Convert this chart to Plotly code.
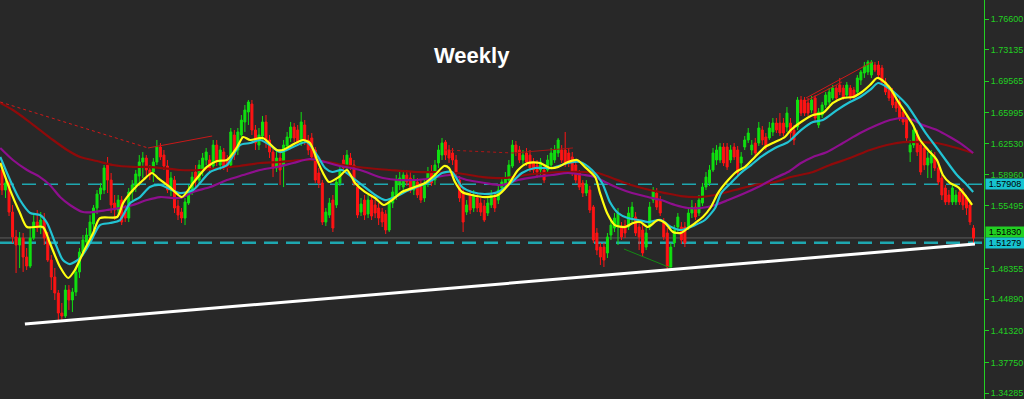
import plotly.graph_objects as go

# ---------------- candle data (weekly OHLC) ----------------
opens = [
    # segment A
    1.5952, 1.5725, 1.5805, 1.5476, 1.5194, 1.5103, 1.5182, 1.4967, 1.4865, 1.5182,
    1.5363, 1.5295, 1.5386, 1.5182, 1.4933, 1.4741, 1.4560, 1.4334, 1.4300, 1.4594,
    1.4481, 1.4571, 1.4798, 1.5024, 1.5137, 1.5205, 1.5341, 1.5522, 1.5680, 1.5725,
    1.6008, 1.5838, 1.5578, 1.5499, 1.5612, 1.5476, 1.5408, 1.5703, 1.5771, 1.5884,
    1.6042, 1.6087, 1.5952, 1.5929, 1.6042, 1.6212, 1.6121, 1.5997, 1.5725, 1.5838,
    1.5544, 1.5476, 1.5408, 1.5578, 1.5725, 1.5929, 1.5838, 1.5952, 1.6065, 1.6065,
    1.5997, 1.6234, 1.6008, 1.6155, 1.6065, 1.6008, 1.6348, 1.6178, 1.6348, 1.6495,
    1.6608,
    # segment B
    1.6698, 1.6404, 1.6234, 1.6336, 1.6495, 1.6291, 1.6155, 1.5974, 1.6087, 1.6008,
    1.6223, 1.6314, 1.6438, 1.6404, 1.6257, 1.6461, 1.6291, 1.6314, 1.6178, 1.5918,
    1.5805, 1.5363, 1.5442, 1.5612, 1.5556, 1.5805, 1.6065, 1.5974, 1.6087, 1.6008,
    1.5759, 1.5476, 1.5612, 1.5454, 1.5612, 1.5556, 1.5522, 1.5476, 1.5454, 1.5273,
    1.5578, 1.5669, 1.5782, 1.5759, 1.5895, 1.5861, 1.5725, 1.5816, 1.5771, 1.5635,
    1.5805, 1.5929, 1.5838, 1.6031, 1.6121, 1.6268, 1.6178, 1.6144, 1.6065, 1.5838,
    1.5703, 1.5476, 1.5669, 1.5522, 1.5635, 1.5578, 1.5544, 1.5465, 1.5556, 1.5635,
    1.5612,
    # segment C
    1.5748, 1.5793, 1.5838, 1.5997, 1.6234, 1.6178, 1.6065, 1.6144, 1.6121, 1.6042,
    1.6008, 1.5952, 1.5952, 1.5952, 1.6008, 1.6065, 1.6144, 1.6178, 1.6178, 1.6144,
    1.6099, 1.6008, 1.5918, 1.5805, 1.5691, 1.5725, 1.5533, 1.5239, 1.5080, 1.5080,
    1.5013, 1.5216, 1.5295, 1.5329, 1.5307, 1.5329, 1.5307, 1.5420, 1.5420, 1.5307,
    1.5273, 1.5080, 1.5307, 1.5612, 1.5691, 1.5612, 1.5352, 1.5239, 1.4854, 1.5126,
    1.5307, 1.5307, 1.5307, 1.5307, 1.5465, 1.5533, 1.5465, 1.5578, 1.5759, 1.5805,
    1.5952, 1.6065, 1.6065, 1.6212, 1.6212, 1.6065, 1.6212, 1.6178, 1.6031, 1.6212,
    1.6291,
    # segment D
    1.6178, 1.6257, 1.6257, 1.6404, 1.6325, 1.6314, 1.6382, 1.6483, 1.6483, 1.6483,
    1.6438, 1.6483, 1.6404, 1.6438, 1.6744, 1.6744, 1.6710, 1.6630, 1.6766, 1.6461,
    1.6574, 1.6687, 1.6721, 1.6766, 1.6879, 1.6913, 1.6879, 1.6800, 1.6879, 1.6857,
    1.6834, 1.6970, 1.7049, 1.7060, 1.7026, 1.7140, 1.7140, 1.7106, 1.6947, 1.6879,
    1.6834, 1.6721, 1.6721, 1.6608, 1.6540, 1.6155, 1.6234, 1.6348, 1.6234, 1.6201,
    1.6008, 1.6031, 1.6087, 1.5974, 1.5861, 1.5748, 1.5669, 1.5590, 1.5590, 1.5703,
    1.5703, 1.5635, 1.5556, 1.5295,
]

highs = [
    1.6065, 1.5861, 1.5838, 1.5556, 1.5273, 1.5250, 1.5239, 1.5069, 1.5307, 1.5442,
    1.5499, 1.5476, 1.5465, 1.5250, 1.4990, 1.4843, 1.4594, 1.4447, 1.4650, 1.4650,
    1.4617, 1.4843, 1.5069, 1.5216, 1.5295, 1.5442, 1.5556, 1.5725, 1.5805, 1.6008,
    1.6099, 1.5918, 1.5669, 1.5669, 1.5657, 1.5556, 1.5748, 1.5838, 1.5952, 1.6121,
    1.6155, 1.6121, 1.6008, 1.6087, 1.6291, 1.6257, 1.6178, 1.6065, 1.5929, 1.5884,
    1.5612, 1.5522, 1.5635, 1.5782, 1.5929, 1.6008, 1.6065, 1.6144, 1.6201, 1.6121,
    1.6291, 1.6291, 1.6223, 1.6201, 1.6121, 1.6427, 1.6404, 1.6427, 1.6574, 1.6687,
    1.6744,
    1.6744, 1.6461, 1.6427, 1.6563, 1.6574, 1.6348, 1.6201, 1.6178, 1.6178, 1.6291,
    1.6382, 1.6495, 1.6483, 1.6461, 1.6608, 1.6517, 1.6348, 1.6370, 1.6212, 1.5974,
    1.5838, 1.5522, 1.5635, 1.5669, 1.5861, 1.6008, 1.6121, 1.6178, 1.6144, 1.6065,
    1.5805, 1.5635, 1.5669, 1.5669, 1.5657, 1.5612, 1.5578, 1.5522, 1.5499, 1.5635,
    1.5759, 1.5895, 1.5929, 1.5952, 1.5952, 1.5929, 1.5895, 1.5861, 1.5838, 1.5838,
    1.5986, 1.6008, 1.6065, 1.6234, 1.6314, 1.6291, 1.6234, 1.6201, 1.6121, 1.5884,
    1.5748, 1.5612, 1.5725, 1.5725, 1.5680, 1.5635, 1.5612, 1.5635, 1.5725, 1.5703,
    1.5771,
    1.5861, 1.5929, 1.6065, 1.6291, 1.6280, 1.6223, 1.6178, 1.6201, 1.6178, 1.6087,
    1.6065, 1.6087, 1.6008, 1.6121, 1.6201, 1.6234, 1.6314, 1.6234, 1.6382, 1.6201,
    1.6155, 1.6065, 1.5952, 1.5838, 1.5838, 1.5771, 1.5556, 1.5295, 1.5126, 1.5126,
    1.5239, 1.5386, 1.5465, 1.5522, 1.5363, 1.5386, 1.5533, 1.5590, 1.5476, 1.5363,
    1.5329, 1.5295, 1.5590, 1.5759, 1.5748, 1.5657, 1.5408, 1.5295, 1.5126, 1.5329,
    1.5465, 1.5363, 1.5363, 1.5522, 1.5612, 1.5578, 1.5669, 1.5805, 1.5929, 1.6008,
    1.6201, 1.6234, 1.6257, 1.6257, 1.6257, 1.6234, 1.6257, 1.6223, 1.6155, 1.6336,
    1.6427,
    1.6291, 1.6314, 1.6495, 1.6449, 1.6370, 1.6495, 1.6540, 1.6540, 1.6596, 1.6540,
    1.6664, 1.6540, 1.6461, 1.6778, 1.6789, 1.6778, 1.6766, 1.6789, 1.6800, 1.6653,
    1.6721, 1.6834, 1.6879, 1.6913, 1.6913, 1.6993, 1.6913, 1.6947, 1.6913, 1.6891,
    1.7026, 1.7083, 1.7174, 1.7196, 1.7196, 1.7174, 1.7185, 1.7140, 1.6993, 1.6913,
    1.6879, 1.6755, 1.6766, 1.6653, 1.6574, 1.6291, 1.6461, 1.6404, 1.6291, 1.6234,
    1.6155, 1.6178, 1.6155, 1.6031, 1.5895, 1.5782, 1.5725, 1.5782, 1.5725, 1.5748,
    1.5748, 1.5669, 1.5612, 1.5329,
]

lows = [
    1.5669, 1.5635, 1.5431, 1.5126, 1.4786, 1.4843, 1.4798, 1.4820, 1.4843, 1.5160,
    1.5250, 1.5227, 1.5103, 1.4911, 1.4594, 1.4481, 1.4255, 1.4232, 1.4277, 1.4368,
    1.4345, 1.4526, 1.4730, 1.4979, 1.5046, 1.5160, 1.5182, 1.5454, 1.5612, 1.5680,
    1.5691, 1.5465, 1.5386, 1.5442, 1.5329, 1.5363, 1.5363, 1.5612, 1.5703, 1.5771,
    1.5861, 1.5861, 1.5838, 1.5816, 1.6008, 1.6065, 1.5952, 1.5691, 1.5657, 1.5465,
    1.5386, 1.5352, 1.5329, 1.5556, 1.5669, 1.5748, 1.5793, 1.5884, 1.6008, 1.5929,
    1.5952, 1.5997, 1.5952, 1.5952, 1.5929, 1.5974, 1.6065, 1.6121, 1.6291, 1.6382,
    1.6461,
    1.6348, 1.6178, 1.6178, 1.6291, 1.6201, 1.6087, 1.5872, 1.5929, 1.5782, 1.5759,
    1.6178, 1.6268, 1.6268, 1.6223, 1.6223, 1.6234, 1.6121, 1.6065, 1.5805, 1.5748,
    1.5329, 1.5318, 1.5408, 1.5250, 1.5522, 1.5771, 1.5929, 1.5952, 1.5952, 1.5771,
    1.5408, 1.5431, 1.5386, 1.5408, 1.5386, 1.5408, 1.5329, 1.5307, 1.5227, 1.5250,
    1.5522, 1.5612, 1.5725, 1.5703, 1.5771, 1.5691, 1.5669, 1.5635, 1.5578, 1.5590,
    1.5759, 1.5771, 1.5782, 1.5974, 1.6065, 1.6065, 1.6031, 1.6008, 1.5884, 1.5590,
    1.5250, 1.5442, 1.5454, 1.5476, 1.5476, 1.5431, 1.5363, 1.5431, 1.5522, 1.5476,
    1.5567,
    1.5703, 1.5748, 1.5793, 1.5974, 1.6110, 1.6031, 1.6019, 1.5997, 1.5929, 1.5895,
    1.5861, 1.5895, 1.5805, 1.5918, 1.5974, 1.6031, 1.6099, 1.6031, 1.5986, 1.5986,
    1.5884, 1.5805, 1.5725, 1.5646, 1.5657, 1.5465, 1.5126, 1.4990, 1.4877, 1.4854,
    1.4956, 1.5160, 1.5250, 1.5103, 1.5160, 1.5182, 1.5273, 1.5363, 1.5205, 1.5046,
    1.4967, 1.5046, 1.5273, 1.5578, 1.5499, 1.5431, 1.5160, 1.4820, 1.4809, 1.5080,
    1.5250, 1.5114, 1.5080, 1.5273, 1.5408, 1.5386, 1.5431, 1.5544, 1.5725, 1.5771,
    1.5929, 1.6008, 1.6031, 1.5997, 1.5952, 1.6031, 1.6065, 1.5884, 1.5974, 1.6178,
    1.6257,
    1.6121, 1.6099, 1.6223, 1.6234, 1.6178, 1.6291, 1.6336, 1.6370, 1.6336, 1.6336,
    1.6382, 1.6291, 1.6234, 1.6404, 1.6563, 1.6563, 1.6563, 1.6596, 1.6506, 1.6427,
    1.6540, 1.6653, 1.6687, 1.6744, 1.6744, 1.6800, 1.6744, 1.6766, 1.6744, 1.6744,
    1.6800, 1.6913, 1.6993, 1.7026, 1.6993, 1.7060, 1.6993, 1.6913, 1.6800, 1.6732,
    1.6653, 1.6608, 1.6506, 1.6461, 1.6280, 1.6042, 1.6201, 1.6110, 1.5895, 1.5952,
    1.5861, 1.5861, 1.5940, 1.5782, 1.5612, 1.5556, 1.5556, 1.5556, 1.5556, 1.5556,
    1.5499, 1.5442, 1.5329, 1.5103,
]

closes = [
    1.5725, 1.5805, 1.5476, 1.5194, 1.5103, 1.5182, 1.4967, 1.4865, 1.5182, 1.5363,
    1.5295, 1.5386, 1.5182, 1.4933, 1.4741, 1.4560, 1.4334, 1.4300, 1.4594, 1.4481,
    1.4571, 1.4798, 1.5024, 1.5160, 1.5216, 1.5363, 1.5522, 1.5680, 1.5748, 1.5974,
    1.5838, 1.5556, 1.5499, 1.5612, 1.5363, 1.5408, 1.5703, 1.5782, 1.5907, 1.6042,
    1.6087, 1.5952, 1.5895, 1.6042, 1.6212, 1.6099, 1.5997, 1.5725, 1.5861, 1.5522,
    1.5442, 1.5408, 1.5590, 1.5725, 1.5872, 1.5838, 1.6008, 1.6087, 1.6155, 1.5974,
    1.6234, 1.6042, 1.6178, 1.5997, 1.5997, 1.6382, 1.6121, 1.6382, 1.6517, 1.6630,
    1.6721,
    1.6404, 1.6257, 1.6348, 1.6495, 1.6291, 1.6155, 1.5974, 1.6087, 1.5952, 1.6234,
    1.6325, 1.6438, 1.6314, 1.6257, 1.6495, 1.6291, 1.6178, 1.6099, 1.5838, 1.5805,
    1.5363, 1.5476, 1.5578, 1.5295, 1.5816, 1.5952, 1.5974, 1.6121, 1.6008, 1.5805,
    1.5442, 1.5567, 1.5442, 1.5612, 1.5431, 1.5465, 1.5408, 1.5363, 1.5273, 1.5578,
    1.5703, 1.5838, 1.5861, 1.5895, 1.5816, 1.5725, 1.5838, 1.5669, 1.5612, 1.5782,
    1.5929, 1.5805, 1.6008, 1.6178, 1.6257, 1.6121, 1.6087, 1.6065, 1.5929, 1.5635,
    1.5363, 1.5556, 1.5499, 1.5657, 1.5522, 1.5476, 1.5386, 1.5578, 1.5669, 1.5522,
    1.5725,
    1.5816, 1.5861, 1.6008, 1.6234, 1.6155, 1.6065, 1.6121, 1.6042, 1.5974, 1.5952,
    1.5929, 1.6042, 1.5838, 1.6065, 1.6144, 1.6178, 1.6291, 1.6065, 1.6031, 1.6042,
    1.5918, 1.5838, 1.5759, 1.5691, 1.5793, 1.5499, 1.5160, 1.5046, 1.4967, 1.4933,
    1.5194, 1.5329, 1.5408, 1.5465, 1.5194, 1.5239, 1.5465, 1.5533, 1.5239, 1.5194,
    1.5013, 1.5239, 1.5533, 1.5725, 1.5533, 1.5465, 1.5194, 1.4854, 1.5080, 1.5273,
    1.5420, 1.5160, 1.5126, 1.5465, 1.5533, 1.5420, 1.5612, 1.5759, 1.5872, 1.5952,
    1.6144, 1.6178, 1.6212, 1.6031, 1.5986, 1.6178, 1.6099, 1.5918, 1.6099, 1.6291,
    1.6370,
    1.6234, 1.6144, 1.6427, 1.6291, 1.6212, 1.6427, 1.6483, 1.6404, 1.6370, 1.6370,
    1.6596, 1.6370, 1.6291, 1.6744, 1.6596, 1.6596, 1.6596, 1.6744, 1.6540, 1.6608,
    1.6687, 1.6800, 1.6834, 1.6879, 1.6766, 1.6834, 1.6766, 1.6913, 1.6766, 1.6778,
    1.6993, 1.7060, 1.7128, 1.7174, 1.7174, 1.7083, 1.7026, 1.6947, 1.6834, 1.6766,
    1.6687, 1.6653, 1.6540, 1.6495, 1.6314, 1.6234, 1.6404, 1.6155, 1.5929, 1.6008,
    1.6087, 1.6121, 1.5974, 1.5816, 1.5669, 1.5590, 1.5590, 1.5748, 1.5669, 1.5590,
    1.5556, 1.5522, 1.5363, 1.5182,
]

# ---------------- moving averages (read at sample weeks) ----------------
ma_fast_x = [
    -0.5, 2.3, 5.1, 7.1, 11.6, 13.6, 16.5, 18.8, 20.7, 23.0,
    25.9, 27.8, 32.7, 34.4, 37.2, 40.1, 42.6, 44.3, 47.7, 51.1,
    54.3, 58.2, 61.1, 63.9, 66.8, 68.5, 70.5, 74.1, 78.1, 79.8,
    82.4, 85.5, 87.5, 89.5, 91.2, 92.9, 95.7, 98.0, 100.3, 103.1,
    106.0, 108.5, 110.8, 113.6, 117.3, 120.2, 123.0, 125.6, 127.0, 128.7,
    130.7, 133.5, 137.2, 140.9, 143.8, 146.6, 149.4, 152.8, 155.7, 158.0,
    160.8, 163.4, 165.6, 168.5, 169.9, 171.9, 174.1, 177.0, 179.3, 181.3,
    183.5, 186.4, 188.4, 190.6, 192.9, 194.9, 196.9, 199.1, 201.4, 203.4,
    206.3, 208.5, 211.1, 213.9, 216.8, 219.6, 222.4, 224.1, 227.0, 230.4,
    233.2, 236.1, 238.9, 241.8, 244.3, 246.6, 248.6, 250.0, 252.3, 254.3,
    256.5, 258.8, 260.8, 263.1, 265.6, 267.3, 269.3, 271.6, 273.6, 275.6,
]
ma_fast_y = [
    1.6031, 1.5725, 1.5465, 1.5307, 1.5307, 1.5126, 1.4854, 1.4730, 1.4820, 1.5013,
    1.5239, 1.5408, 1.5420, 1.5578, 1.5725, 1.5838, 1.5918, 1.5861, 1.5759, 1.5646,
    1.5805, 1.5986, 1.6053, 1.6065, 1.6212, 1.6325, 1.6291, 1.6314, 1.6178, 1.6178,
    1.6234, 1.6291, 1.6257, 1.6065, 1.5918, 1.5816, 1.5872, 1.5952, 1.5805, 1.5703,
    1.5635, 1.5556, 1.5612, 1.5703, 1.5759, 1.5805, 1.5895, 1.5997, 1.5974, 1.5816,
    1.5703, 1.5669, 1.5646, 1.5669, 1.5782, 1.5952, 1.6031, 1.6031, 1.5974, 1.5986,
    1.6042, 1.6065, 1.5986, 1.5872, 1.5691, 1.5465, 1.5329, 1.5307, 1.5352, 1.5363,
    1.5307, 1.5386, 1.5352, 1.5250, 1.5239, 1.5295, 1.5352, 1.5420, 1.5533, 1.5691,
    1.5838, 1.5929, 1.5986, 1.6099, 1.6212, 1.6268, 1.6325, 1.6404, 1.6495, 1.6574,
    1.6596, 1.6710, 1.6766, 1.6778, 1.6834, 1.6913, 1.6993, 1.6970, 1.6879, 1.6744,
    1.6608, 1.6461, 1.6291, 1.6178, 1.6065, 1.5895, 1.5805, 1.5759, 1.5669, 1.5556,
]

ma_mid_x = [
    -0.5, 2.3, 5.1, 8.0, 10.8, 12.8, 15.1, 17.3, 19.3, 22.2,
    25.0, 27.8, 30.7, 33.5, 36.4, 39.2, 42.0, 44.9, 50.6, 54.3,
    59.1, 63.9, 67.6, 70.5, 73.3, 76.1, 79.0, 82.7, 86.6, 89.8,
    91.8, 93.8, 96.6, 99.4, 102.3, 106.0, 108.8, 111.6, 115.6, 119.3,
    122.2, 125.0, 127.8, 130.7, 133.5, 137.2, 140.9, 144.9, 147.7, 151.4,
    156.3, 160.8, 164.2, 167.6, 170.5, 172.7, 175.0, 177.8, 180.7, 183.5,
    187.2, 190.1, 192.9, 196.9, 199.7, 202.6, 204.3, 207.1, 209.9, 212.8,
    215.6, 219.6, 223.3, 227.0, 230.4, 233.2, 237.2, 240.9, 243.8, 246.6,
    248.9, 251.4, 254.3, 257.1, 260.0, 262.8, 265.6, 268.5, 271.3, 273.6,
    275.9,
]
ma_mid_y = [
    1.6099, 1.5838, 1.5612, 1.5465, 1.5442, 1.5352, 1.5126, 1.4933, 1.4888, 1.4956,
    1.5126, 1.5329, 1.5352, 1.5386, 1.5578, 1.5646, 1.5759, 1.5782, 1.5691, 1.5725,
    1.5929, 1.6008, 1.6234, 1.6257, 1.6291, 1.6234, 1.6155, 1.6212, 1.6268, 1.6099,
    1.5974, 1.5929, 1.5952, 1.5872, 1.5782, 1.5669, 1.5612, 1.5646, 1.5725, 1.5782,
    1.5838, 1.5918, 1.5929, 1.5759, 1.5703, 1.5680, 1.5703, 1.5816, 1.5918, 1.5974,
    1.5974, 1.6031, 1.6042, 1.5952, 1.5805, 1.5590, 1.5465, 1.5408, 1.5386, 1.5363,
    1.5386, 1.5307, 1.5273, 1.5329, 1.5386, 1.5522, 1.5691, 1.5805, 1.5918, 1.6008,
    1.6099, 1.6201, 1.6268, 1.6404, 1.6495, 1.6517, 1.6630, 1.6721, 1.6778, 1.6857,
    1.6936, 1.6891, 1.6800, 1.6687, 1.6517, 1.6348, 1.6201, 1.6042, 1.5895, 1.5805,
    1.5703,
]

ma_slow_x = [
    -0.5, 3.1, 7.1, 10.8, 13.6, 16.5, 19.3, 23.0, 25.9, 29.8,
    33.5, 37.2, 41.2, 44.9, 50.6, 54.3, 59.1, 63.9, 68.5, 73.3,
    78.1, 82.7, 87.5, 91.8, 96.0, 101.7, 108.2, 113.1, 120.7, 127.3,
    132.1, 137.2, 142.0, 146.6, 151.4, 156.3, 160.8, 165.6, 168.5, 171.3,
    175.0, 179.0, 183.5, 187.2, 191.2, 194.9, 198.6, 202.6, 206.3, 211.1,
    214.8, 219.6, 223.3, 227.0, 230.4, 234.4, 238.9, 243.8, 248.6, 252.3,
    256.0, 258.8, 261.6, 265.6, 269.3, 273.0, 275.9,
]
ma_slow_y = [
    1.6201, 1.6065, 1.5952, 1.5872, 1.5782, 1.5646, 1.5556, 1.5476, 1.5476, 1.5499,
    1.5522, 1.5556, 1.5612, 1.5646, 1.5635, 1.5703, 1.5759, 1.5838, 1.5895, 1.5952,
    1.5986, 1.6031, 1.6076, 1.6042, 1.5997, 1.5952, 1.5861, 1.5838, 1.5850, 1.5895,
    1.5838, 1.5805, 1.5782, 1.5838, 1.5872, 1.5895, 1.5918, 1.5895, 1.5872, 1.5816,
    1.5748, 1.5691, 1.5646, 1.5612, 1.5556, 1.5522, 1.5522, 1.5556, 1.5612, 1.5691,
    1.5759, 1.5861, 1.5929, 1.6031, 1.6099, 1.6155, 1.6257, 1.6370, 1.6461, 1.6517,
    1.6540, 1.6517, 1.6461, 1.6404, 1.6325, 1.6234, 1.6144,
]

ma_long_x = [
    -0.5, 3.1, 7.1, 10.8, 14.5, 18.5, 22.2, 27.0, 31.5, 37.2,
    42.0, 50.6, 56.3, 61.9, 67.6, 73.3, 79.0, 84.7, 89.5, 96.9,
    103.7, 110.2, 117.9, 123.6, 129.3, 136.6, 142.9, 148.6, 154.3, 159.9,
    165.6, 169.3, 173.3, 177.0, 180.7, 184.1, 188.4, 192.9, 197.7, 202.6,
    208.2, 213.9, 219.6, 224.1, 230.4, 235.2, 240.9, 246.6, 251.4, 256.0,
    260.8, 265.6, 270.2, 275.9,
]
ma_long_y = [
    1.6710, 1.6630, 1.6517, 1.6404, 1.6291, 1.6178, 1.6099, 1.6053, 1.6008, 1.5986,
    1.5986, 1.5952, 1.5952, 1.5974, 1.5997, 1.6031, 1.6042, 1.6065, 1.6065, 1.6008,
    1.5974, 1.5952, 1.5929, 1.5929, 1.5918, 1.5872, 1.5861, 1.5895, 1.5918, 1.5929,
    1.5929, 1.5918, 1.5861, 1.5805, 1.5759, 1.5725, 1.5691, 1.5657, 1.5646, 1.5669,
    1.5725, 1.5782, 1.5816, 1.5872, 1.5929, 1.6008, 1.6087, 1.6178, 1.6234, 1.6268,
    1.6268, 1.6257, 1.6212, 1.6144,
]

# ---------------- drawn objects ----------------
trend_x = [6.5, 276.4]
trend_y = [1.4209, 1.5114]
red_dotted_1_x = [-0.5, 41.5]
red_dotted_1_y = [1.6721, 1.6201]
red_solid_1_x = [41.5, 59.7]
red_solid_1_y = [1.6201, 1.6336]
red_dotted_2_x = [125.9, 145.2]
red_dotted_2_y = [1.6178, 1.6144]
red_solid_2_x = [145.2, 162.2]
red_solid_2_y = [1.6144, 1.6201]
green_line_x = [176.7, 191.5]
green_line_y = [1.5058, 1.4820]
red_top_a_x = [228.4, 247.2]
red_top_a_y = [1.6766, 1.7174]
red_top_b_x = [228.4, 238.6]
red_top_b_y = [1.6732, 1.6947]

level_upper = 1.57908
level_lower = 1.51279
price_now = 1.5183
price_label_y = 1.5252   # where the price tag sits on the right scale

tick_vals = [1.766, 1.73135, 1.69565, 1.65995, 1.6253, 1.5896, 1.55495,
             1.48355, 1.4489, 1.4132, 1.3775, 1.34285]
tick_text = ["1.76600", "1.73135", "1.69565", "1.65995", "1.62530", "1.58960",
             "1.55495", "1.48355", "1.44890", "1.41320", "1.37750", "1.34285"]

BG = "#282828"
GREEN_AX = "#22d022"
FONT = "Liberation Sans, Arial, sans-serif"

n = len(opens)
xs = list(range(n))

fig = go.Figure()

# horizontal levels
fig.add_shape(type="line", xref="paper", x0=0, x1=1, yref="y", y0=level_upper, y1=level_upper,
              line=dict(color="#1ea7b0", width=1.5, dash="14px,8px"), layer="below")
fig.add_shape(type="line", xref="paper", x0=0, x1=1, yref="y", y0=price_now, y1=price_now,
              line=dict(color="#5e5e5e", width=1), layer="below")
fig.add_shape(type="line", xref="paper", x0=0, x1=1, yref="y", y0=level_lower, y1=level_lower,
              line=dict(color="#1ea7b0", width=2.5, dash="14px,8px"), layer="below")

fig.add_trace(go.Candlestick(
    x=xs, open=opens, high=highs, low=lows, close=closes,
    increasing=dict(line=dict(color="#10e010", width=1), fillcolor="#10e010"),
    decreasing=dict(line=dict(color="#ff1414", width=1), fillcolor="#ff1414"),
    whiskerwidth=0, hoverinfo="skip", showlegend=False))


def line_trace(x, y, color, width, dash=None, spline=False):
    ln = dict(color=color, width=width)
    if dash:
        ln["dash"] = dash
    if spline:
        ln["shape"] = "spline"
        ln["smoothing"] = 0.7
    return go.Scatter(x=x, y=y, mode="lines", line=ln, hoverinfo="skip", showlegend=False)


fig.add_trace(line_trace(ma_long_x, ma_long_y, "#8f0a0a", 2.2, spline=True))
fig.add_trace(line_trace(ma_slow_x, ma_slow_y, "#8e0f8e", 2.2, spline=True))
fig.add_trace(line_trace(ma_mid_x, ma_mid_y, "#22c4d4", 2.2, spline=True))
fig.add_trace(line_trace(ma_fast_x, ma_fast_y, "#ffff10", 2.2, spline=True))

fig.add_trace(line_trace(red_dotted_1_x, red_dotted_1_y, "#d01818", 1, dash="3px,3px"))
fig.add_trace(line_trace(red_solid_1_x, red_solid_1_y, "#c81818", 1))
fig.add_trace(line_trace(red_dotted_2_x, red_dotted_2_y, "#b01515", 1, dash="3px,3px"))
fig.add_trace(line_trace(red_solid_2_x, red_solid_2_y, "#a81515", 1))
fig.add_trace(line_trace(green_line_x, green_line_y, "#138a13", 1))
fig.add_trace(line_trace(red_top_a_x, red_top_a_y, "#d01818", 1))
fig.add_trace(line_trace(red_top_b_x, red_top_b_y, "#d01818", 1))
fig.add_trace(line_trace(trend_x, trend_y, "#ffffff", 3))


def price_tag(text, yval, color):
    return dict(text=text, xref="paper", yref="y", x=1, y=yval, xanchor="left",
                yanchor="middle", xshift=1, showarrow=False, bgcolor=color, borderpad=0,
                width=38, align="center",
                font=dict(family=FONT, size=9, color="#000000"))


annotations = [
    dict(text="<b>Weekly</b>", xref="paper", yref="paper", x=472 / 984, y=1 - 55 / 399,
         xanchor="center", yanchor="middle", showarrow=False,
         font=dict(family=FONT, size=22, color="#ffffff")),
    price_tag("1.57908", level_upper, "#17c3cf"),
    price_tag("1.51830", price_label_y, "#22d022"),
    price_tag("1.51279", level_lower, "#17c3cf"),
]

fig.update_layout(
    width=1024, height=399,
    margin=dict(l=0, r=40, t=0, b=0),
    paper_bgcolor=BG, plot_bgcolor=BG,
    showlegend=False,
    boxgap=0.2,
    annotations=annotations,
    xaxis=dict(range=[-0.57, n + 1.98], visible=False, rangeslider=dict(visible=False),
               showgrid=False, zeroline=False),
    yaxis=dict(side="right", range=[1.3361, 1.7875], tickvals=tick_vals, ticktext=tick_text,
               showgrid=False, zeroline=False, showline=True, linecolor=GREEN_AX, linewidth=1,
               ticks="outside", ticklen=4, tickcolor=GREEN_AX, automargin=False,
               tickfont=dict(family=FONT, size=9, color=GREEN_AX)),
)

fig.write_html("out.html")
